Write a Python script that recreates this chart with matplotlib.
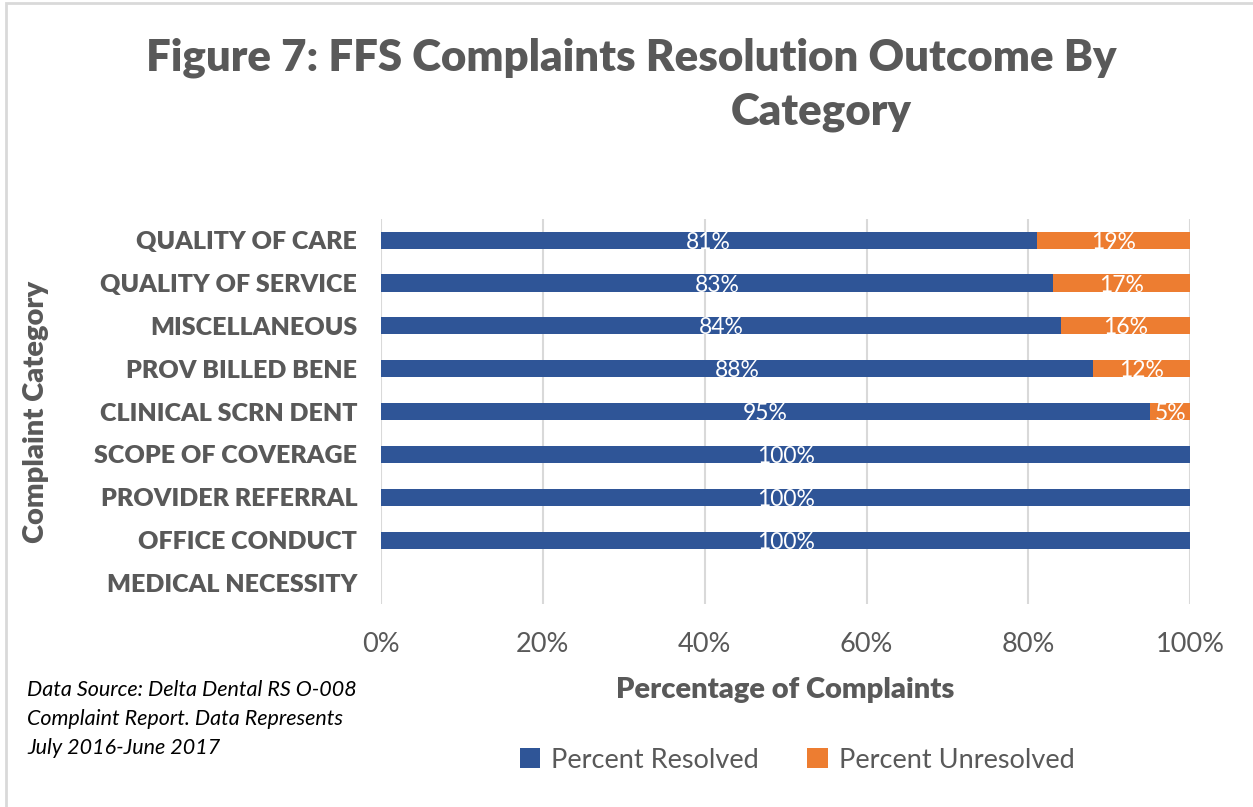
import matplotlib.pyplot as plt
import numpy as np
from matplotlib.patches import Rectangle

categories = ['QUALITY OF CARE', 'QUALITY OF SERVICE', 'MISCELLANEOUS', 'PROV BILLED BENE',
              'CLINICAL SCRN DENT', 'SCOPE OF COVERAGE', 'PROVIDER REFERRAL', 'OFFICE CONDUCT',
              'MEDICAL NECESSITY']
resolved = [81, 83, 84, 88, 95, 100, 100, 100, 0]
unresolved = [19, 17, 16, 12, 5, 0, 0, 0, 0]
xticks = [0, 20, 40, 60, 80, 100]

blue = '#2F5597'
orange = '#ED7D31'
gray = '#595959'

plt.rcParams['font.family'] = ['Lato', 'DejaVu Sans']

fig = plt.figure(figsize=(12.53, 8.07), dpi=100)
ax = fig.add_axes([0.304, 0.251, 0.646, 0.478])

y = np.arange(len(categories))
ax.barh(y, resolved, height=0.4, color=blue, label='Percent Resolved', zorder=2)
ax.barh(y, unresolved, left=resolved, height=0.4, color=orange, label='Percent Unresolved', zorder=2)

for i in range(len(categories)):
    if resolved[i] > 0:
        ax.text(resolved[i] / 2, y[i] + 0.05, f'{resolved[i]}%', ha='center', va='center',
                color='white', fontsize=16.5, zorder=3)
    if unresolved[i] > 0:
        ax.text(resolved[i] + unresolved[i] / 2, y[i] + 0.05, f'{unresolved[i]}%', ha='center',
                va='center', color='white', fontsize=16.5, zorder=3)

ax.set_xlim(0, 100)
ax.set_ylim(len(categories) - 0.5, -0.5)
ax.set_xticks(xticks)
ax.set_xticklabels([f'{t}%' for t in xticks])
ax.set_yticks(y)
ax.set_yticklabels(categories, fontweight='heavy')
ax.tick_params(axis='y', length=0, labelsize=18, labelcolor=gray, pad=17)
ax.tick_params(axis='x', length=0, labelsize=19.5, labelcolor=gray, pad=20)
ax.grid(axis='x', color='#D9D9D9', linewidth=1.5, zorder=0)
ax.set_axisbelow(True)
for s in ax.spines.values():
    s.set_visible(False)

ax.set_xlabel('Percentage of Complaints', fontsize=21, fontweight='heavy', color=gray, labelpad=14)
ax.set_ylabel('Complaint Category', fontsize=21, fontweight='heavy', color=gray)
ax.yaxis.set_label_coords(-0.41, 0.5)

fig.text(631 / 1253, 1 - 58 / 807, 'Figure 7: FFS Complaints Resolution Outcome By',
         ha='center', va='center', fontsize=31.5, fontweight='heavy', color=gray)
fig.text(821 / 1253, 1 - 112 / 807, 'Category',
         ha='center', va='center', fontsize=31.5, fontweight='heavy', color=gray)

src = ['Data Source: Delta Dental RS O-008', 'Complaint Report. Data Represents', 'July 2016-June 2017']
for k, line in enumerate(src):
    fig.text(27 / 1253, 1 - (690 + 29 * k) / 807, line, ha='left', va='center',
             fontsize=15.5, style='italic', color='black')

fig.legend(loc='center', bbox_to_anchor=(797 / 1253, 1 - 760 / 807), ncols=2, frameon=False,
           fontsize=19.5, labelcolor=gray, handlelength=0.75, handleheight=0.75, columnspacing=1.8,
           handletextpad=0.4)

fig.patches.append(Rectangle((6 / 1253, -0.1), 1.2, 1 - 3 / 807 + 0.1, transform=fig.transFigure,
                             fill=False, edgecolor='#D9D9D9', linewidth=2))

fig.savefig('out.png', dpi=100)
